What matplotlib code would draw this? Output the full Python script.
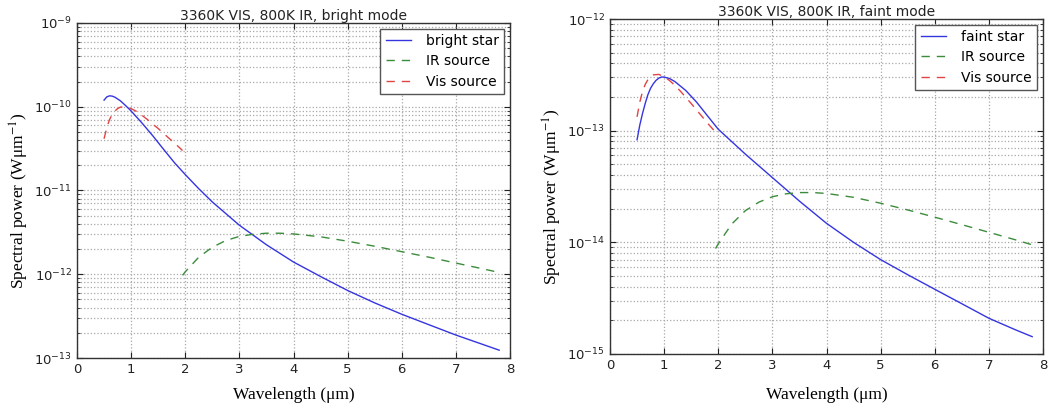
import matplotlib
matplotlib.use("Agg")
import matplotlib.pyplot as plt
from matplotlib.ticker import LogLocator, NullFormatter, MultipleLocator

# ---------------- data ----------------
wl_star = [0.5, 0.55, 0.6, 0.65, 0.7, 0.8, 0.9, 1.0, 1.2, 1.4, 1.6, 1.8, 2.0,
           2.25, 2.5, 2.75, 3.0, 3.5, 4.0, 4.5, 5.0, 5.5, 6.0, 6.5, 7.0, 7.5, 7.8]
bright_star = [1.2e-10, 1.31e-10, 1.35e-10, 1.34e-10, 1.3e-10, 1.18e-10, 1.03e-10,
               0.89e-10, 0.64e-10, 0.45e-10, 0.31e-10, 0.215e-10, 1.55e-11,
               1.05e-11, 7.3e-12, 5.3e-12, 3.85e-12, 2.25e-12, 1.4e-12, 9.4e-13,
               6.4e-13, 4.55e-13, 3.33e-13, 2.5e-13, 1.88e-13, 1.45e-13, 1.24e-13]

wl_star_f = [0.5, 0.55, 0.6, 0.65, 0.7, 0.75, 0.8, 0.85, 0.9, 0.95, 1.0, 1.1, 1.2,
             1.4, 1.6, 1.8, 2.0, 2.5, 3.0, 3.5, 4.0, 4.5, 5.0, 5.5, 6.0, 6.5,
             7.0, 7.5, 7.8]
faint_star = [8.3e-14, 1.12e-13, 1.42e-13, 1.75e-13, 2.1e-13, 2.4e-13, 2.63e-13,
              2.82e-13, 2.95e-13, 3.02e-13, 3.02e-13, 2.93e-13, 2.75e-13,
              2.29e-13, 1.8e-13, 1.36e-13, 1.03e-13, 6.17e-14, 3.8e-14, 2.34e-14,
              1.48e-14, 1.0e-14, 7.0e-15, 5.13e-15, 3.8e-15, 2.82e-15, 2.09e-15,
              1.64e-15, 1.43e-15]

wl_vis = [0.5, 0.55, 0.6, 0.65, 0.7, 0.75, 0.8, 0.9, 1.0, 1.1, 1.2, 1.3, 1.4,
          1.5, 1.6, 1.7, 1.8, 1.95]
vis_bright = [4.15e-11, 5.6e-11, 7.0e-11, 8.1e-11, 8.9e-11, 9.5e-11, 9.9e-11,
              1.0e-10, 9.5e-11, 8.8e-11, 7.9e-11, 7.05e-11, 6.2e-11, 5.5e-11,
              4.8e-11, 4.2e-11, 3.7e-11, 3.0e-11]
vis_faint = [1.33e-13, 1.8e-13, 2.23e-13, 2.59e-13, 2.86e-13, 3.05e-13, 3.16e-13,
             3.19e-13, 3.05e-13, 2.81e-13, 2.54e-13, 2.26e-13, 1.99e-13, 1.75e-13,
             1.53e-13, 1.34e-13, 1.17e-13, 0.97e-13]

wl_ir = [1.95, 2.0, 2.25, 2.5, 2.75, 3.0, 3.25, 3.5, 3.75, 4.0, 4.5, 5.0, 5.5,
         6.0, 6.5, 7.0, 7.5, 7.8]
ir_bright = [0.97e-12, 1.07e-12, 1.6e-12, 2.1e-12, 2.53e-12, 2.83e-12, 3.0e-12,
             3.09e-12, 3.09e-12, 3.03e-12, 2.8e-12, 2.48e-12, 2.16e-12, 1.86e-12,
             1.6e-12, 1.36e-12, 1.16e-12, 1.05e-12]
ir_faint = [0.88e-14, 0.97e-14, 1.46e-14, 1.92e-14, 2.29e-14, 2.56e-14, 2.72e-14,
            2.79e-14, 2.79e-14, 2.74e-14, 2.53e-14, 2.24e-14, 1.95e-14, 1.68e-14,
            1.44e-14, 1.23e-14, 1.05e-14, 0.95e-14]

titles = ["3360K VIS, 800K IR, bright mode", "3360K VIS, 800K IR, faint mode"]
star_labels = ["bright star", "faint star"]
ylims = [(1e-13, 1e-9), (1e-15, 1e-12)]

# ---------------- figure ----------------
W, H = 1049, 411
fig = plt.figure(figsize=(W / 100, H / 100), dpi=100)
ax1 = fig.add_axes([77 / W, 1 - 358 / H, (510 - 77) / W, (358 - 23) / H])
ax2 = fig.add_axes([610 / W, 1 - 354 / H, (1043 - 610) / W, (354 - 19) / H])

c_blue = "#3535e0"
c_green = "#3c8c3c"
c_red = "#e04545"
dash = (0, (6, 5))
serif = ["Liberation Serif", "DejaVu Serif"]

panels = [
    (ax1, wl_star, bright_star, vis_bright, ir_bright, -0.088),
    (ax2, wl_star_f, faint_star, vis_faint, ir_faint, -0.098),
]
for i, (ax, wls, star, vis, ir, xly) in enumerate(panels):
    ax.plot(wls, star, color=c_blue, lw=1.0, label=star_labels[i])
    ax.plot(wl_ir, ir, color=c_green, lw=1.0, ls=dash, label="IR source")
    ax.plot(wl_vis, vis, color=c_red, lw=1.0, ls=dash, label="Vis source")
    ax.set_yscale("log")
    ax.set_xlim(0, 8)
    ax.set_ylim(*ylims[i])
    ax.xaxis.set_major_locator(MultipleLocator(1))
    ax.yaxis.set_major_locator(LogLocator(base=10, numticks=20))
    ax.yaxis.set_minor_locator(LogLocator(base=10, subs=range(2, 10), numticks=50))
    ax.yaxis.set_minor_formatter(NullFormatter())
    ax.xaxis.offsetText.set_visible(False)
    ax.yaxis.offsetText.set_visible(False)
    ax.grid(which="major", axis="both", ls=":", color="#a8a8a8", lw=0.9)
    ax.grid(which="minor", axis="y", ls=":", color="#a8a8a8", lw=0.9)
    ax.tick_params(which="both", direction="in", top=True, right=True,
                   labelsize=9.5, colors="#222222")
    ax.tick_params(which="major", length=4)
    ax.tick_params(which="minor", length=2)
    for s in ax.spines.values():
        s.set_color("#333333")
        s.set_linewidth(1.0)
    ax.set_title(titles[i], fontsize=10, pad=1.5, color="#222222")
    ax.set_xlabel("Wavelength (μm)", family=serif, fontsize=12.5)
    ax.set_ylabel("Spectral power (Wμm$^{-1}$)", family=serif, fontsize=12.5,
                  math_fontfamily="stix")
    ax.xaxis.set_label_coords(0.5, xly)
    ax.yaxis.set_label_coords(-0.106, 0.47)
    leg = ax.legend(loc="upper right", fontsize=10, fancybox=False,
                    edgecolor="#555555", framealpha=1, borderaxespad=0.4,
                    handlelength=1.8, handletextpad=1.1, labelspacing=0.45)
    leg.get_frame().set_linewidth(1.0)

fig.savefig("out.png", dpi=100)
